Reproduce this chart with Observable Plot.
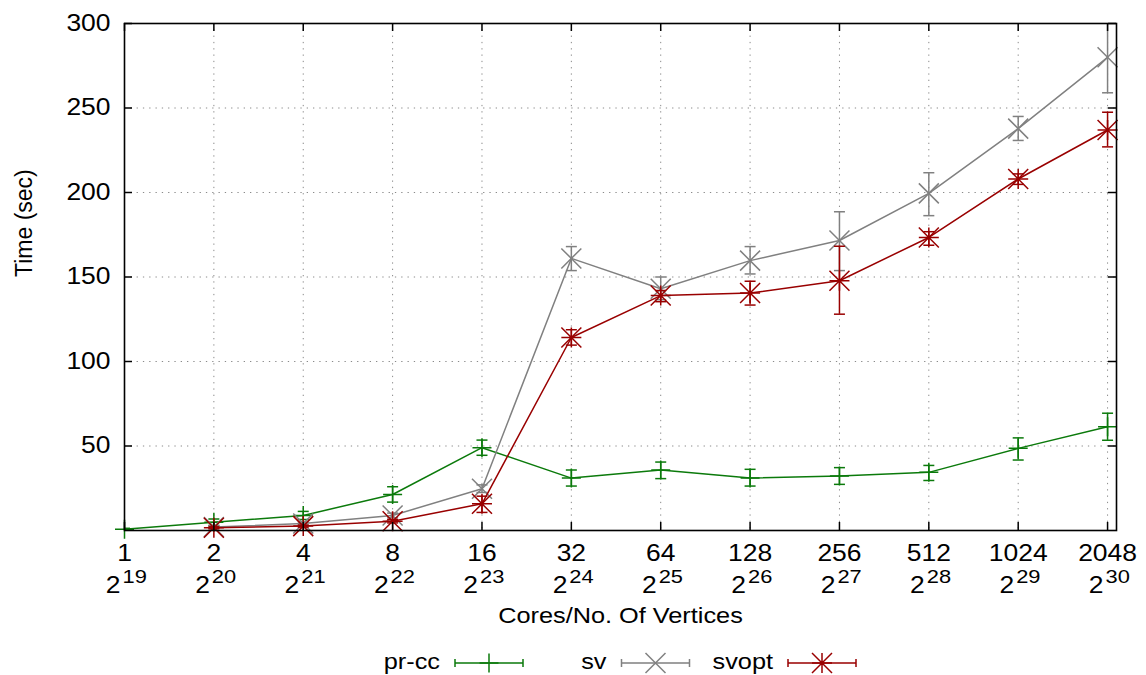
<!DOCTYPE html>
<html><head><meta charset="utf-8">
<script src="https://cdn.jsdelivr.net/npm/d3@7"></script>
<script src="https://cdn.jsdelivr.net/npm/@observablehq/plot@0.6"></script>
<style>
html,body{margin:0;padding:0;background:#fff;}
svg{display:block}
</style></head><body>
<div id="chart"></div>
<div id="legend"></div>
<script>
// ---- data ----
const cores = [1, 2, 4, 8, 16, 32, 64, 128, 256, 512, 1024, 2048];
const vertexExp = [19, 20, 21, 22, 23, 24, 25, 26, 27, 28, 29, 30];
const yTicks = [50, 100, 150, 200, 250, 300];
const seriesNames = ["pr-cc", "sv", "svopt"];
const seriesColors = ["#0b7a0b", "#808080", "#990000"];

const prcc   = [0.8, 4.9, 8.9, 21.3, 49.0, 31.0, 35.8, 31.0, 32.2, 34.4, 48.6, 61.4];
const prccLo = [0.3, 3.0, 6.5, 16.8, 44.5, 26.3, 30.7, 26.3, 27.3, 29.6, 41.7, 53.4];
const prccHi = [1.3, 6.8, 11.3, 25.9, 53.5, 35.8, 40.5, 36.2, 37.2, 38.5, 54.8, 69.4];

const sv   = [null, 2.0, 4.1, 8.9, 24.7, 161.0, 143.0, 159.7, 171.6, 199.5, 237.8, 280.0];
const svLo = [null, 1.2, 3.2, 7.5, 22.5, 153.8, 136.6, 151.8, 153.8, 186.3, 230.8, 259.0];
const svHi = [null, 2.8, 5.0, 10.3, 27.0, 168.0, 150.0, 168.0, 188.6, 211.7, 245.0, 302.0];

const svopt   = [null, 1.6, 2.6, 5.5, 15.8, 114.2, 139.0, 140.5, 147.8, 173.4, 208.0, 237.0];
const svoptLo = [null, 1.0, 2.0, 4.5, 10.7, 109.7, 135.4, 133.4, 128.0, 168.8, 204.8, 227.0];
const svoptHi = [null, 2.2, 3.2, 6.5, 20.3, 118.8, 142.0, 147.5, 168.2, 176.8, 211.0, 247.5];

// ---- build table ----
const seriesData = [[prcc, prccLo, prccHi], [sv, svLo, svHi], [svopt, svoptLo, svoptHi]];
const rows = seriesData.map(([v, lo, hi], s) =>
  cores.map((c, i) => ({series: seriesNames[s], x: Math.log2(c), y: v[i], lo: lo[i], hi: hi[i]}))
       .filter(d => d.y != null));

// ---- symbols (gnuplot-like) ----
const R = s => Math.sqrt(s / Math.PI);
const plusSym = {draw(c, s) { const r = R(s); c.moveTo(-r, 0); c.lineTo(r, 0); c.moveTo(0, -r); c.lineTo(0, r); }};
const timesSym = {draw(c, s) { const r = R(s); c.moveTo(-r, -r); c.lineTo(r, r); c.moveTo(-r, r); c.lineTo(r, -r); }};
const starSym = {draw(c, s) { plusSym.draw(c, s); timesSym.draw(c, s); }};
const capSym = {draw(c, s) { const r = R(s); c.moveTo(-r, 0); c.lineTo(r, 0); }};
const symbols = [plusSym, timesSym, starSym];

// ---- layout ----
const W = 1146, H = 640, ML = 124, MR = 30, MT = 23, MB = 110;
const FW = W - ML - MR, FH = H - MT - MB;
const tickLen = 8;
const lx = d => Math.log2(d);

const seriesMarks = rows.flatMap((data, s) => {
  const col = seriesColors[s];
  return [
    Plot.line(data, {x: "x", y: "y", stroke: col, strokeWidth: 1.5}),
    Plot.ruleX(data, {x: "x", y1: "lo", y2: "hi", stroke: col, strokeWidth: 1.5, clip: true}),
    Plot.dot(data, {x: "x", y: "lo", symbol: capSym, r: 5.5, fill: "none", stroke: col, strokeWidth: 1.5, clip: true}),
    Plot.dot(data, {x: "x", y: "hi", symbol: capSym, r: 5.5, fill: "none", stroke: col, strokeWidth: 1.5, clip: true}),
    Plot.dot(data, {x: "x", y: "y", symbol: symbols[s], r: s === 0 ? 9.5 : 10, fill: "none", stroke: col, strokeWidth: 1.5})
  ];
});

const chart = Plot.plot({
  width: W, height: H,
  marginLeft: ML, marginRight: MR, marginTop: MT, marginBottom: MB,
  x: {domain: [0, 11.1], axis: null},
  y: {domain: [0, 300], axis: null},
  style: {fontFamily: "'Liberation Sans', Arial, Helvetica, sans-serif", fontSize: "22px", background: "#fff", color: "#000", overflow: "visible"},
  marks: [
    Plot.ruleY(yTicks.filter(v => v < 300), {y: d => d, stroke: "#8a8a8a", strokeWidth: 1, strokeDasharray: "1.3,5"}),
    Plot.ruleX(cores.slice(1), {x: lx, stroke: "#8a8a8a", strokeWidth: 1, strokeDasharray: "1.3,5"}),
    ...seriesMarks,
    Plot.frame({stroke: "#000", strokeWidth: 1.6}),
    Plot.tickY(yTicks, {y: d => d, insetRight: FW - tickLen, stroke: "#000", strokeWidth: 1.5}),
    Plot.tickY(yTicks, {y: d => d, insetLeft: FW - tickLen, stroke: "#000", strokeWidth: 1.5}),
    Plot.tickX(cores, {x: lx, insetTop: FH - tickLen, stroke: "#000", strokeWidth: 1.5}),
    Plot.tickX(cores, {x: lx, insetBottom: FH - tickLen, stroke: "#000", strokeWidth: 1.5}),
    Plot.text(yTicks, {y: d => d, text: d => String(d), frameAnchor: "left", textAnchor: "end", dx: -14, fontSize: 23}),
    Plot.text(cores, {x: lx, text: d => String(d), frameAnchor: "bottom", lineAnchor: "bottom", dy: 30, fontSize: 23}),
    Plot.text(cores, {x: lx, text: () => "2", frameAnchor: "bottom", lineAnchor: "bottom", dy: 62, dx: -4, textAnchor: "end", fontSize: 23}),
    Plot.text(cores.map((c, i) => ({c, e: vertexExp[i]})), {x: d => lx(d.c), text: d => String(d.e), frameAnchor: "bottom", lineAnchor: "bottom", dy: 52, dx: -2, textAnchor: "start", fontSize: 19}),
    Plot.text(["Time (sec)"], {text: d => d, frameAnchor: "left", dx: -100, rotate: -90, fontSize: 23}),
    Plot.text(["Cores/No. Of Vertices"], {text: d => d, frameAnchor: "bottom", lineAnchor: "bottom", dy: 92, fontSize: 22})
  ]
});
document.getElementById("chart").appendChild(chart);

// ---- legend ----
const leg = d3.select("#legend").append("svg").attr("width", W).attr("height", 675 - H)
  .style("font-family", "'Liberation Sans', Arial, Helvetica, sans-serif").style("font-size", "22px");
const legY = 23;
seriesNames.forEach((name, s) => {
  const col = seriesColors[s];
  const textRight = 440 + s * 166.5;
  const x0 = textRight + 15, x1 = x0 + 68, xm = (x0 + x1) / 2;
  leg.append("text").attr("x", textRight).attr("y", legY + 6).attr("text-anchor", "end").attr("fill", "#000").text(name);
  const p = d3.path();
  p.moveTo(x0, legY); p.lineTo(x1, legY);
  p.moveTo(x0, legY - 4); p.lineTo(x0, legY + 4);
  p.moveTo(x1, legY - 4); p.lineTo(x1, legY + 4);
  leg.append("path").attr("d", p.toString()).attr("stroke", col).attr("stroke-width", 1.5).attr("fill", "none");
  const q = d3.path();
  const r = s === 0 ? 9.5 : 10;
  symbols[s].draw(q, r * r * Math.PI);
  leg.append("path").attr("d", q.toString()).attr("transform", `translate(${xm},${legY})`).attr("stroke", col).attr("stroke-width", 1.5).attr("fill", "none");
});

// ---- mimic the horizontally wide lettering of the original ----
const stretchK = 1.15;
document.querySelectorAll("svg text").forEach(t => {
  if (t.textContent === "Time (sec)") return;
  const L = t.getComputedTextLength();
  if (L > 0) { t.setAttribute("textLength", (L * stretchK).toFixed(2)); t.setAttribute("lengthAdjust", "spacingAndGlyphs"); }
});
</script>
</body></html>
